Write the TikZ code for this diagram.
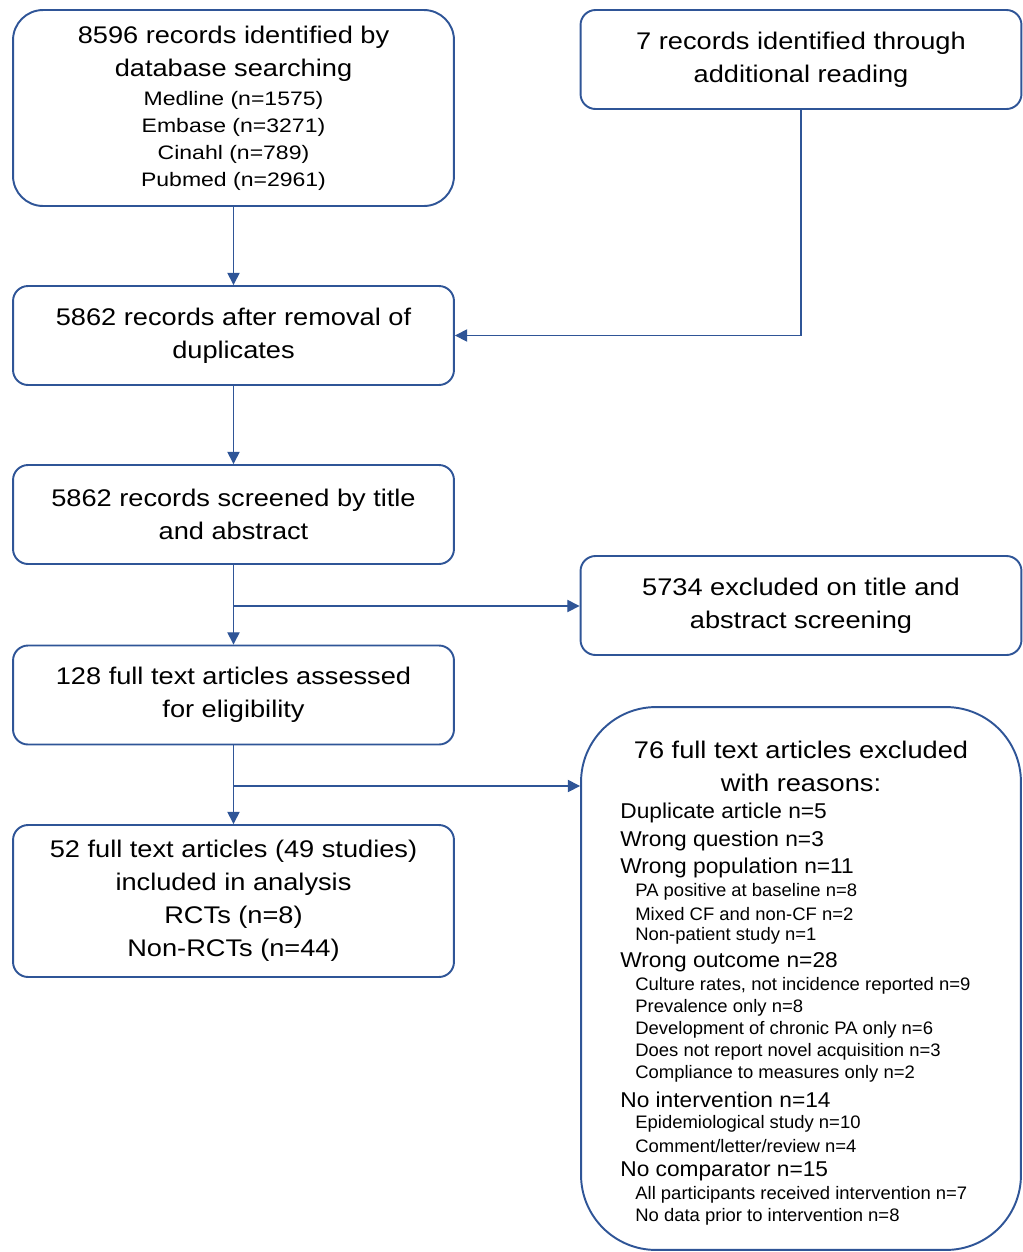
\documentclass[tikz,border=0pt]{standalone}
\usepackage{fontspec}
\setmainfont{Liberation Sans}
\newfontfamily\bigfam{Liberation Sans}[FakeStretch=1.13]
\newfontfamily\dbfam{Liberation Sans}[FakeStretch=1.18]
\newfontfamily\midfam{Liberation Sans}[FakeStretch=1.06]
\newfontfamily\smlfam{Liberation Sans}[FakeStretch=1.02]
\usetikzlibrary{arrows.meta}

\definecolor{prismablue}{RGB}{47,85,151}
\newcommand{\bigtxt}{\bigfam\fontsize{13.7}{18.8}\selectfont}
\newcommand{\dbtxt}{\dbfam\fontsize{11.1}{15.6}\selectfont}
\newcommand{\midtxt}{\midfam\fontsize{12.2}{15.6}\selectfont}
\newcommand{\smltxt}{\smlfam\fontsize{10.3}{12.5}\selectfont}

\tikzset{
  flowbox/.style={draw=prismablue, line width=1.1pt, rounded corners=0.3cm,
    minimum width=8.82cm, minimum height=1.98cm, align=center, inner sep=0pt,
    font=\bigtxt},
  flowarrow/.style={draw=prismablue, line width=0.8pt,
    -{Triangle[length=7pt,width=7pt]}},
  reason/.style={anchor=west, inner sep=0pt, font=\midtxt},
  subreason/.style={anchor=west, inner sep=0pt, font=\smltxt},
}

\begin{document}
\begin{tikzpicture}[x=0.02cm,y=-0.02cm]
\useasboundingbox (0,0) rectangle (1022,1252);

% left column
\node[flowbox, minimum height=3.92cm, rounded corners=0.6cm] (recid) at (233.5,108)
  {8596 records identified by\\database searching\\[-2.2pt]
   {\dbtxt Medline (n=1575)}\\[-3.4pt]
   {\dbtxt Embase (n=3271)}\\[-3.4pt]
   {\dbtxt Cinahl (n=789)}\\[-3.4pt]
   {\dbtxt Pubmed (n=2961)}};
\node[flowbox] (dedup) at (233.5,335.5) {5862 records after removal of\\duplicates};
\node[flowbox] (screen) at (233.5,514.5) {5862 records screened by title\\and abstract};
\node[flowbox] (fulltext) at (233.5,695) {128 full text articles assessed\\for eligibility};
\node[flowbox, minimum height=3.04cm] (incl) at (233.5,901)
  {52 full text articles (49 studies)\\included in analysis\\RCTs (n=8)\\Non-RCTs (n=44)};

% right column
\node[flowbox] (addread) at (801,59.5) {7 records identified through\\additional reading};
\node[flowbox] (excl) at (801,605.5) {5734 excluded on title and\\abstract screening};
\node[flowbox, minimum width=8.8cm, minimum height=10.86cm, rounded corners=1.5cm] (exclfull) at (801,978.5) {};
\node[align=center, font=\bigtxt, inner sep=0pt] (excltitle) at (801,766)
  {76 full text articles excluded\\with reasons:};

\node[reason] (r1) at (620,813) {Duplicate article n=5};
\node[reason] (r2) at (620,841) {Wrong question n=3};
\node[reason] (r3) at (620,868) {Wrong population n=11};
\node[subreason] (r3a) at (635,892) {PA positive at baseline n=8};
\node[subreason] (r3b) at (635,914) {Mixed CF and non-CF n=2};
\node[subreason] (r3c) at (635,936) {Non-patient study n=1};
\node[reason] (r4) at (620,962) {Wrong outcome n=28};
\node[subreason] (r4a) at (635,986) {Culture rates, not incidence reported n=9};
\node[subreason] (r4b) at (635,1008) {Prevalence only n=8};
\node[subreason] (r4c) at (635,1030) {Development of chronic PA only n=6};
\node[subreason] (r4d) at (635,1052) {Does not report novel acquisition n=3};
\node[subreason] (r4e) at (635,1074) {Compliance to measures only n=2};
\node[reason] (r5) at (620,1100) {No intervention n=14};
\node[subreason] (r5a) at (635,1124) {Epidemiological study n=10};
\node[subreason] (r5b) at (635,1146) {Comment/letter/review n=4};
\node[reason] (r6) at (620,1171) {No comparator n=15};
\node[subreason] (r6a) at (635,1195) {All participants received intervention n=7};
\node[subreason] (r6b) at (635,1217) {No data prior to intervention n=8};

% connectors
\coordinate (split1) at (233.5,606);
\coordinate (split2) at (233.5,786);
\draw[flowarrow] (recid) -- (dedup);
\draw[flowarrow] (addread.south) |- (dedup.east);
\draw[flowarrow] (dedup) -- (screen);
\draw[flowarrow] (screen) -- (fulltext);
\draw[flowarrow] (split1) -- (split1 -| excl.west);
\draw[flowarrow] (fulltext) -- (incl);
\draw[flowarrow] (split2) -- (split2 -| exclfull.west);
\end{tikzpicture}
\end{document}
